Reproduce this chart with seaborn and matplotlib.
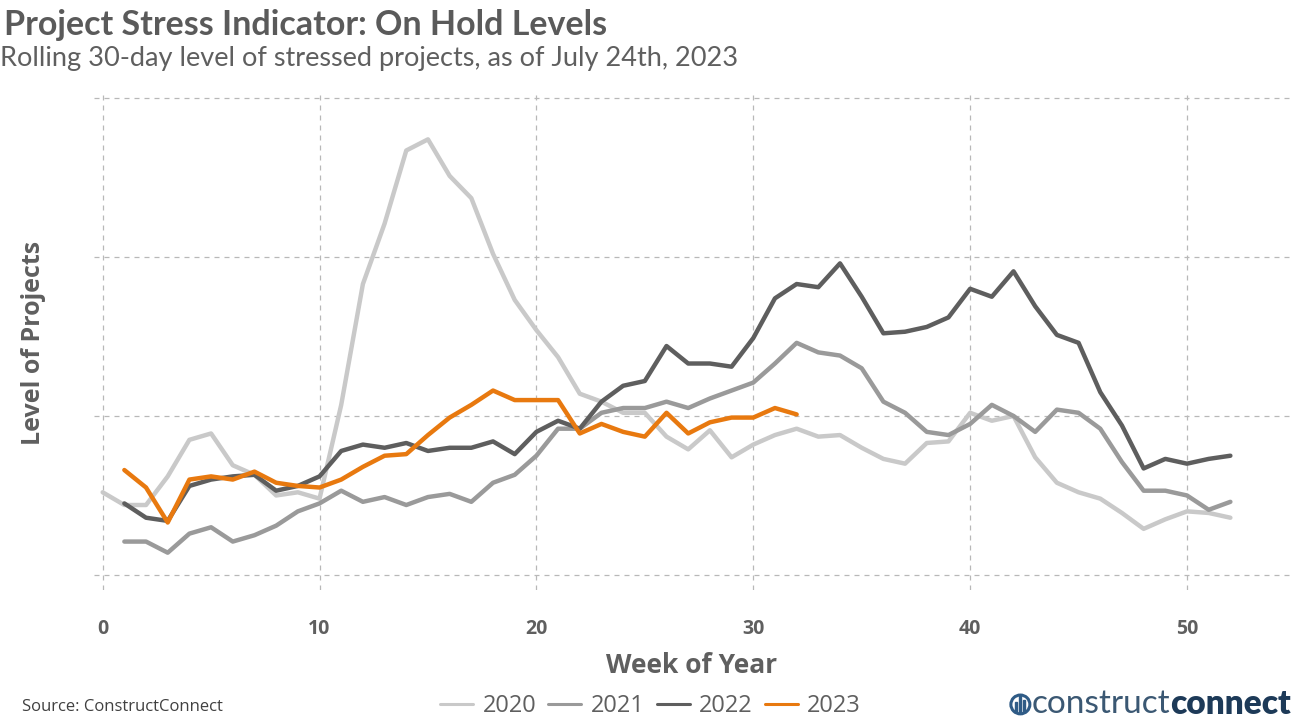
import pandas as pd
import matplotlib
matplotlib.use("Agg")
import matplotlib.pyplot as plt
import matplotlib.patches as mpatches
import seaborn as sns

# Weekly rolling 30-day level of on-hold projects (unitless)
weeks_2020 = list(range(0, 53))
level_2020 = [52, 44, 44, 62, 85, 89, 69, 63, 50, 52, 48, 107, 183, 221, 267, 274, 251, 237,
              202, 173, 154, 137, 114, 109, 102, 102, 87, 79, 91, 74, 82, 88, 92, 87, 88, 80,
              73, 70, 83, 84, 102, 97, 100, 74, 58, 52, 48, 39, 29, 35, 40, 39, 36]

weeks_2021 = list(range(1, 53))
level_2021 = [21, 21, 14, 26, 30, 21, 25, 31, 40, 45, 53, 46, 49, 44, 49, 51, 46, 58, 63, 75,
              92, 92, 102, 105, 105, 109, 105, 111, 116, 121, 133, 146, 140, 138, 130, 109,
              102, 90, 88, 95, 107, 100, 90, 104, 102, 92, 71, 53, 53, 50, 41, 46]

weeks_2022 = list(range(1, 53))
level_2022 = [45, 36, 34, 56, 60, 62, 63, 53, 56, 62, 78, 82, 80, 83, 78, 80, 80, 84, 76, 90,
              97, 92, 109, 119, 122, 144, 133, 133, 131, 149, 174, 183, 181, 196, 175, 152,
              153, 156, 162, 180, 175, 191, 169, 151, 146, 115, 94, 67, 73, 70, 73, 75]

weeks_2023 = list(range(1, 33))
level_2023 = [66, 55, 33, 60, 62, 60, 65, 58, 56, 55, 60, 68, 75, 76, 88, 99, 107, 116, 110,
              110, 110, 89, 95, 90, 87, 102, 89, 96, 99, 99, 105, 101]

years = ["2020", "2021", "2022", "2023"]
colors = {"2020": "#c9c9c9", "2021": "#9a9a9a", "2022": "#5e5e5e", "2023": "#e8790f"}
x_ticks = [0, 10, 20, 30, 40, 50]
y_grid = [0, 100, 200, 300]

frames = []
for yr, wk, lv in zip(years,
                      [weeks_2020, weeks_2021, weeks_2022, weeks_2023],
                      [level_2020, level_2021, level_2022, level_2023]):
    frames.append(pd.DataFrame({"week": wk, "level": lv, "year": yr}))
df = pd.concat(frames, ignore_index=True)

sns.set_style("white")
plt.rcParams["font.family"] = ["Open Sans", "DejaVu Sans"]

text_grey = "#5f5f5f"
fig = plt.figure(figsize=(13.09, 7.24), dpi=100)
ax = fig.add_axes([0.0718, 0.185, 0.9137, 0.684])

sns.lineplot(data=df, x="week", y="level", hue="year", hue_order=years,
             palette=colors, linewidth=3.2, ax=ax, legend=False)

ax.set_xlim(-0.4, 54.75)
ax.set_ylim(-9.5, 302)
ax.set_xticks(x_ticks)
ax.set_yticks(y_grid)
ax.set_yticklabels([])
ax.tick_params(axis="x", length=0, pad=21, labelsize=14, labelcolor=text_grey)
ax.tick_params(axis="y", length=0)
for lab in ax.get_xticklabels():
    lab.set_fontweight("bold")
ax.grid(True, linestyle=(0, (4, 4)), color="#b8b8b8", linewidth=0.9)
for s in ax.spines.values():
    s.set_visible(False)

ax.set_xlabel("Week of Year", fontsize=19, fontweight="bold", color=text_grey, labelpad=9)
ax.set_ylabel("Level of Projects", fontsize=18, fontweight="bold", color=text_grey, labelpad=31)

fig.text(0.003, 0.988, "Project Stress Indicator: On Hold Levels", fontsize=24.5,
         fontweight="bold", color="#5a5a5a", va="top", ha="left", family="Lato")
fig.text(0.0, 0.936, "Rolling 30-day level of stressed projects, as of July 24th, 2023",
         fontsize=19.5, color="#5f5f5f", va="top", ha="left", family="Lato")

# legend along the bottom
handles = [plt.Line2D([], [], color=colors[y], linewidth=2.2) for y in years]
fig.legend(handles, years, loc="center", bbox_to_anchor=(0.497, 0.025), ncol=4,
           frameon=False, fontsize=17, labelcolor=text_grey, handlelength=1.4,
           handletextpad=0.4, columnspacing=0.5)

fig.text(0.017, 0.024, "Source: ConstructConnect", fontsize=12, color="#404040",
         va="center", ha="left")

# company wordmark, bottom right
t1 = fig.text(0.788, 0.027, "construct", fontsize=24, color="#3b5873",
              va="center", ha="left", family="Lato")
fig.canvas.draw()
bb = t1.get_window_extent()
x_next = bb.x1 / fig.bbox.width
fig.text(x_next, 0.027, "connect", fontsize=24, color="#1d3a58", va="center", ha="left",
         fontweight="heavy", family="Lato")
cx, cy = 0.7795, 0.027
fig.patches.append(mpatches.Ellipse((cx, cy), 0.0145, 0.026, transform=fig.transFigure,
                                    fill=False, edgecolor="#2f5b86", linewidth=2.2))
for dx, h in [(-0.003, 0.014), (0.0, 0.022), (0.003, 0.017)]:
    fig.patches.append(mpatches.Rectangle((cx + dx - 0.0008, cy - 0.011), 0.0016, h,
                                          transform=fig.transFigure, color="#2f5b86"))

fig.savefig("out.png", dpi=100)
